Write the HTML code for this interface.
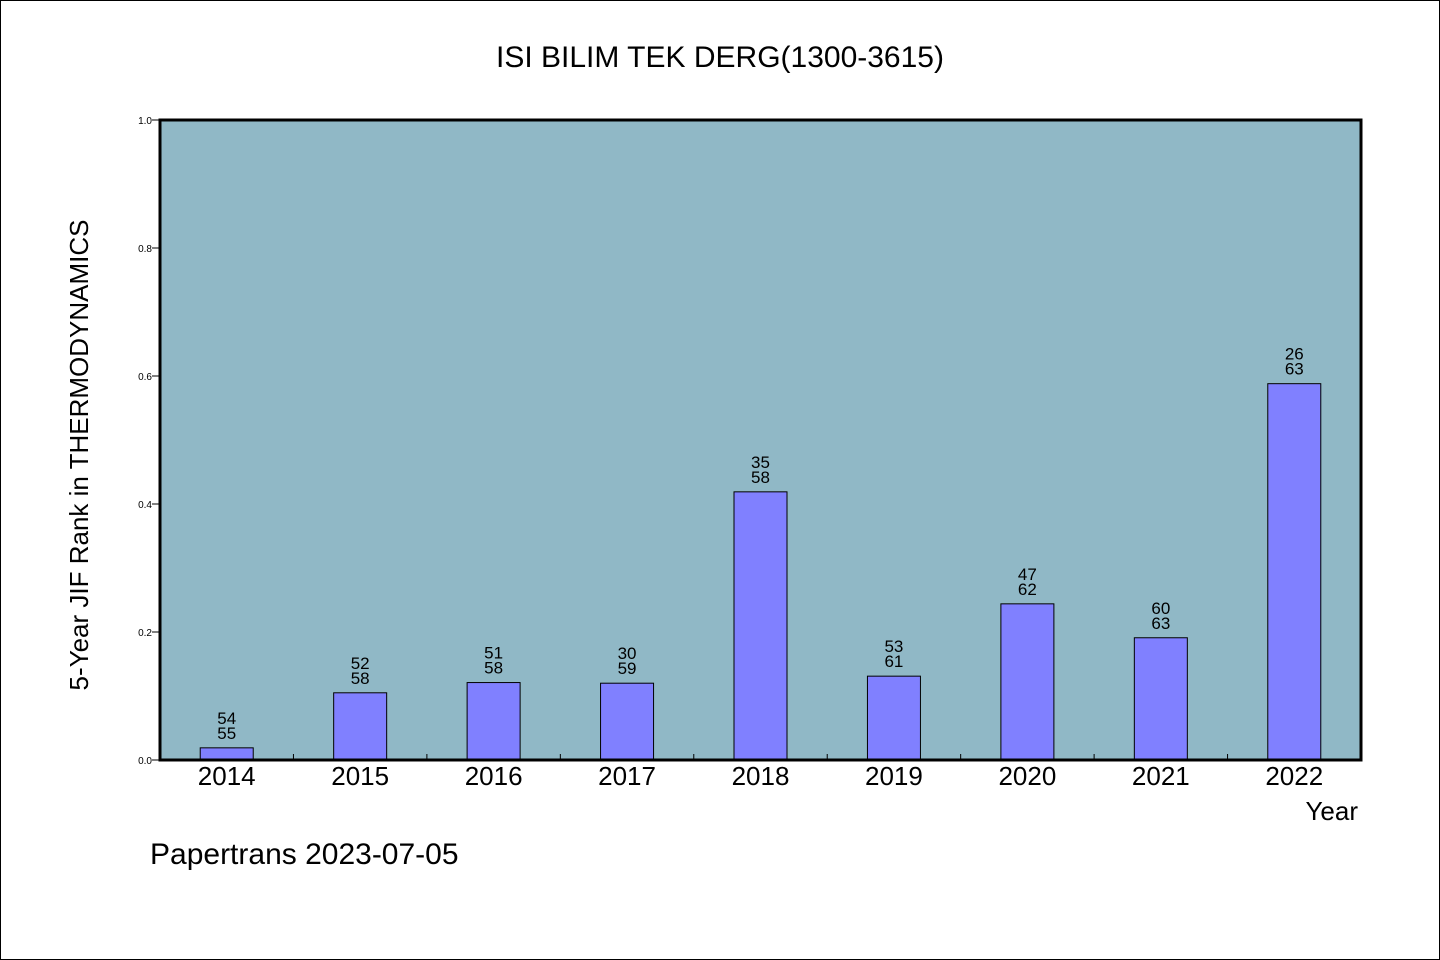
<!DOCTYPE html>
<html><head><meta charset="utf-8"><style>
html,body{margin:0;padding:0;background:#fff}
svg{display:block}
text{font-family:"WenQuanYi Zen Hei","Liberation Sans",sans-serif;fill:#000}
</style></head><body>
<svg id="chart" width="1440" height="960" xmlns="http://www.w3.org/2000/svg">
<rect x="0.5" y="0.5" width="1439" height="959" fill="#fff" stroke="#000"/>
<text x="720" y="67" font-size="30" text-anchor="middle">ISI BILIM TEK DERG(1300-3615)</text>
<rect x="160" y="120" width="1201" height="640" fill="#90b8c6"/>
<g id="bars"></g>
<g id="yticks"></g>
<g id="xticks"></g>
<rect x="160" y="120" width="1201" height="640" fill="none" stroke="#000" stroke-width="3"/>
<text x="88" y="455" font-size="26" text-anchor="middle" transform="rotate(-90 88 455)">5-Year JIF Rank in THERMODYNAMICS</text>
<text x="1358" y="820" font-size="26" text-anchor="end">Year</text>
<text x="150" y="864" font-size="30">Papertrans 2023-07-05</text>
</svg>
<script>
const categories=["2014","2015","2016","2017","2018","2019","2020","2021","2022"];
const values=[0.019,0.105,0.121,0.120,0.419,0.131,0.244,0.191,0.588];
const ranks=["54","52","51","30","35","53","47","60","26"];
const totals=["55","58","58","59","58","61","62","63","63"];
const yTicks=["0.0","0.2","0.4","0.6","0.8","1.0"];
const NS="http://www.w3.org/2000/svg";
const X0=160,X1=1361,Y0=760,Y1=120;
const band=(X1-X0)/categories.length;
const xc=i=>X0+band*(i+0.5);
const y=v=>Y0-(v)*(Y0-Y1);
function mk(tag,attrs,parent,txt){const e=document.createElementNS(NS,tag);for(const k in attrs)e.setAttribute(k,attrs[k]);if(txt!==undefined)e.textContent=txt;parent.appendChild(e);return e;}
const gb=document.getElementById('bars'),gy=document.getElementById('yticks'),gx=document.getElementById('xticks');
const bw=53;
categories.forEach((c,i)=>{
  const r=mk('rect',{x:xc(i)-bw/2,y:y(values[i]),width:bw,height:Y0-y(values[i]),fill:'#8080ff',stroke:'#000','stroke-width':1},gb);
  
  
  const t1=mk('text',{x:xc(i),y:y(values[i])-24,'font-size':17,'text-anchor':'middle'},gb,ranks[i]);
  
  
  const t2=mk('text',{x:xc(i),y:y(values[i])-9,'font-size':17,'text-anchor':'middle'},gb,totals[i]);
  
  
  const xl=mk('text',{x:xc(i),y:785,'font-size':26,'text-anchor':'middle'},gx,c);
  
  
  if(i>0){const tk=mk('line',{x1:X0+band*i,x2:X0+band*i,y1:Y0,y2:Y0-6,stroke:'#000'},gx);
  
  }
});
yTicks.forEach(t=>{
  const v=parseFloat(t);
  const ln=mk('line',{x1:X0-8,x2:X0,y1:y(v),y2:y(v),stroke:'#000'},gy);
  
  
  const tx=mk('text',{x:X0-8,y:y(v)+4,'font-size':10,'text-anchor':'end'},gy,t);
  
  
});
</script>
</body></html>
